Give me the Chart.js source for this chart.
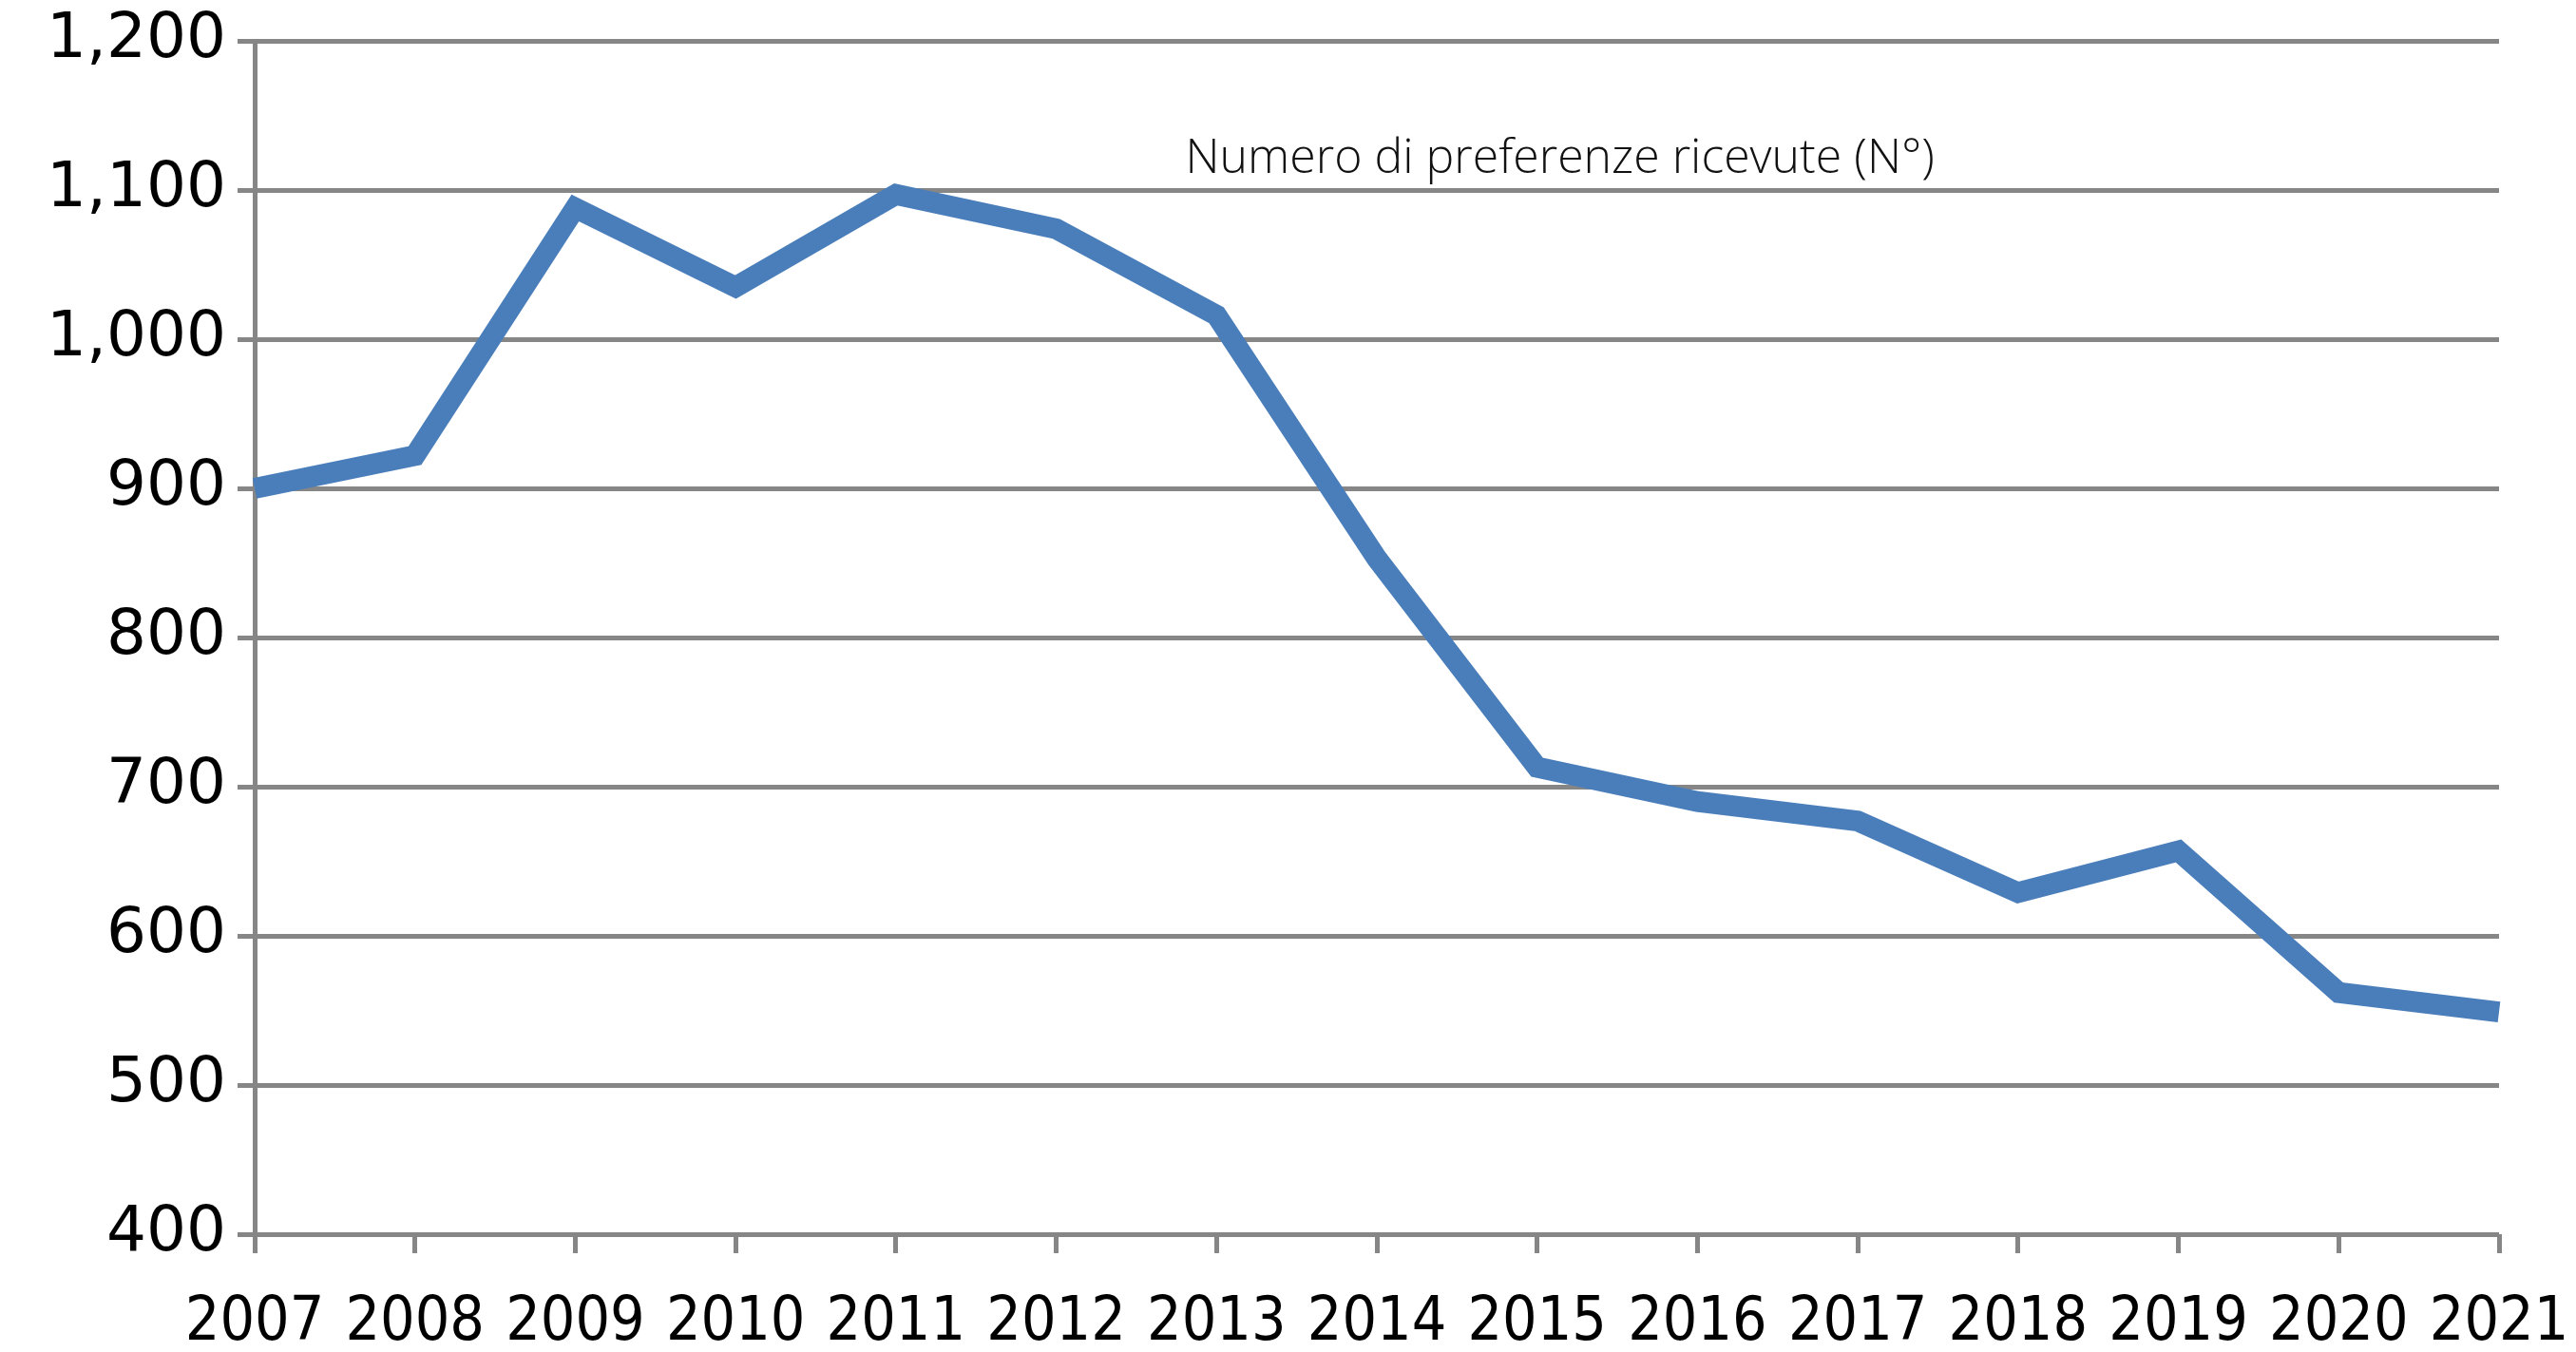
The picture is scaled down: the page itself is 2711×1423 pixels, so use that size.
<!DOCTYPE html>
<html>
<head>
<meta charset="utf-8">
<script src="https://cdn.jsdelivr.net/npm/chart.js@4"></script>
<style>
  html, body { margin: 0; padding: 0; background: #fff; }
  #wrap { width: 2711px; height: 1423px; }
</style>
</head>
<body>
<div id="wrap"><canvas id="grafico" width="2711" height="1423"></canvas></div>
<script>
// dati
const anni = ['2007', '2008', '2009', '2010', '2011', '2012', '2013', '2014', '2015', '2016', '2017', '2018', '2019', '2020', '2021'];
const preferenze = [900, 922, 1088, 1035, 1097, 1074, 1016, 853, 713, 690, 677, 629, 657, 562, 549];
const tickY = [400, 500, 600, 700, 800, 900, 1000, 1100, 1200];
const etichetta = 'Numero di preferenze ricevute (N°)';

// scritta della serie dentro l'area del grafico
const etichettaSerie = {
    id: 'etichettaSerie',
    afterDraw(chart) {
        const ctx = chart.ctx;
        const x = chart.scales.x;
        const y = chart.scales.y;
        ctx.save();
        ctx.font = '300 50px "Open Sans"';
        ctx.fillStyle = '#111';
        ctx.textAlign = 'center';
        ctx.textBaseline = 'alphabetic';
        ctx.fillText(etichetta, (x.getPixelForValue(5) + x.getPixelForValue(11)) / 2 + 24, y.getPixelForValue(1100) - 18);
        ctx.restore();
    }
};

const ctx = document.getElementById('grafico').getContext('2d');
new Chart(ctx, {
    type: 'line',
    data: {
        labels: anni,
        datasets: [{
            label: etichetta,
            data: preferenze,
            borderColor: '#4a7ebb',
            borderWidth: 22,
            pointRadius: 0,
            tension: 0,
            fill: false
        }]
    },
    options: {
        responsive: false,
        animation: false,
        layout: {
            padding: { top: 43, right: 81, bottom: 0, left: 0 }
        },
        plugins: {
            legend: { display: false },
            tooltip: { enabled: false }
        },
        scales: {
            x: {
                offset: false,
                grid: {
                    drawOnChartArea: false,
                    drawTicks: true,
                    tickLength: 20,
                    tickWidth: 5,
                    color: '#868686'
                },
                border: { display: false },
                ticks: {
                    color: '#000',
                    padding: 36,
                    maxRotation: 0,
                    autoSkip: false,
                    font: { family: '"DejaVu Sans Condensed", "DejaVu Sans"', size: 64 }
                },
                afterFit(scale) {
                    scale.height = 124;
                    scale.paddingLeft = 0;
                    scale.paddingRight = 0;
                }
            },
            y: {
                min: 400,
                max: 1200,
                afterBuildTicks(scale) {
                    scale.ticks = tickY.map(v => ({ value: v }));
                },
                grid: {
                    color: '#868686',
                    lineWidth: 5,
                    tickLength: 18,
                    drawTicks: true
                },
                border: { display: true, color: '#868686', width: 5 },
                ticks: {
                    color: '#000',
                    padding: 12,
                    font: { family: '"DejaVu Sans"', size: 66 },
                    callback: v => v.toLocaleString('en-US')
                },
                afterFit(scale) {
                    scale.width = 268;
                    scale.paddingTop = 0;
                    scale.paddingBottom = 0;
                }
            }
        }
    },
    plugins: [etichettaSerie]
});
</script>
</body>
</html>
